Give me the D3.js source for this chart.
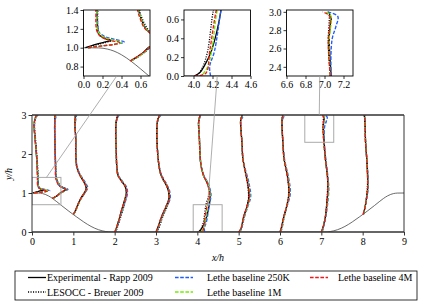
<!DOCTYPE html>
<html>
<head>
<meta charset="utf-8">
<script src="https://cdn.jsdelivr.net/npm/d3@7"></script>
<style>
body{margin:0;background:#fff;}
text{font-family:"Liberation Serif","DejaVu Serif",serif;fill:#000;}
</style>
</head>
<body>
<script>
// stations (x/h) where the profiles are taken
var stations=[0.05,0.5,1,2,3,4,5,6,7,8];

// hill contour
var hillX=[0,0.161,0.25,0.321,0.4,0.5,0.6,0.714,0.893,1.071,1.25,1.429,1.607,1.786,1.929,
           7.071,7.214,7.393,7.571,7.75,7.929,8.107,8.286,8.4,8.5,8.6,8.679,8.75,8.839,9];
var hillY=[1,0.998,0.986,0.964,0.925,0.857,0.776,0.679,0.532,0.393,0.259,0.143,0.059,0.012,0,
           0,0.012,0.059,0.143,0.259,0.393,0.532,0.679,0.776,0.857,0.925,0.964,0.986,0.998,1];

// profiles: [offset from station, y/h]
var expRapp=[
 [[-0.03,1.0],[0.06,1.03],[0.17,1.06],[0.24,1.08],[0.17,1.1],[0.11,1.14],[0.1,1.2],[0.09,1.4],[0.07,1.8],[0.04,2.2],[0.02,2.45],[0.0,2.75],[0.03,2.92],[0.07,3.0]],
 [[0.0,0.86],[0.06,0.9],[0.13,0.95],[0.18,1.0],[0.26,1.05],[0.31,1.09],[0.28,1.12],[0.21,1.15],[0.15,1.21],[0.11,1.3],[0.08,1.4],[0.07,1.7],[0.06,2.1],[0.05,2.5],[0.05,2.8],[0.06,3.0]],
 [[0.0,0.45],[0.05,0.55],[0.1,0.68],[0.16,0.82],[0.23,0.95],[0.29,1.05],[0.31,1.13],[0.27,1.25],[0.2,1.38],[0.13,1.52],[0.08,1.68],[0.06,2.0],[0.06,2.4],[0.04,2.7],[0.05,3.0]],
 [[0.01,0.0],[0.04,0.1],[0.1,0.3],[0.17,0.57],[0.24,0.82],[0.28,1.0],[0.26,1.15],[0.17,1.3],[0.08,1.45],[0.05,1.7],[0.04,2.0],[0.03,2.4],[0.03,2.75],[0.05,2.9],[0.08,3.0]],
 [[0.0,0.0],[0.04,0.1],[0.13,0.38],[0.24,0.65],[0.31,0.85],[0.3,1.05],[0.25,1.2],[0.17,1.35],[0.11,1.5],[0.06,1.8],[0.03,2.2],[0.02,2.5],[0.03,2.8],[0.06,2.93],[0.1,3.0]],
 [[0.01,0.0],[0.07,0.04],[0.11,0.1],[0.19,0.27],[0.29,0.7],[0.31,0.9],[0.3,1.05],[0.24,1.25],[0.15,1.45],[0.09,1.7],[0.06,2.1],[0.05,2.4],[0.03,2.8],[0.05,2.93],[0.07,3.0]],
 [[0.01,0.0],[0.06,0.1],[0.12,0.39],[0.2,0.65],[0.25,0.9],[0.22,1.25],[0.14,1.65],[0.1,1.9],[0.08,2.3],[0.05,2.7],[0.05,2.88],[0.09,3.0]],
 [[0.0,0.0],[0.03,0.1],[0.09,0.39],[0.16,0.65],[0.22,1.0],[0.18,1.43],[0.1,1.86],[0.07,2.3],[0.05,2.7],[0.05,2.88],[0.07,3.0]],
 [[0.0,0.0],[0.05,0.15],[0.1,0.4],[0.13,0.7],[0.16,1.1],[0.15,1.4],[0.1,1.86],[0.07,2.3],[0.05,2.7],[0.06,2.85],[0.07,2.93],[0.04,3.0]],
 [[0.02,0.46],[0.06,0.65],[0.09,0.85],[0.12,1.1],[0.12,1.4],[0.1,1.86],[0.07,2.3],[0.06,2.7],[0.05,2.9],[0.04,3.0]]
];
var lesoccBreuer=[
 [[0.0,1.0],[0.1,1.035],[0.2,1.06],[0.24,1.075],[0.18,1.1],[0.12,1.14],[0.1,1.2],[0.1,1.4],[0.08,1.8],[0.05,2.2],[0.03,2.45],[0.01,2.75],[0.03,2.92],[0.06,3.0]],
 [[0.0,0.86],[0.07,0.9],[0.14,0.95],[0.2,1.0],[0.28,1.05],[0.32,1.09],[0.3,1.12],[0.24,1.15],[0.19,1.18],[0.13,1.28],[0.09,1.4],[0.07,1.7],[0.06,2.1],[0.05,2.5],[0.05,2.8],[0.06,3.0]],
 [[0.0,0.45],[0.06,0.55],[0.11,0.68],[0.17,0.82],[0.24,0.95],[0.3,1.05],[0.32,1.13],[0.28,1.25],[0.21,1.38],[0.14,1.52],[0.09,1.68],[0.06,2.0],[0.06,2.4],[0.04,2.7],[0.05,3.0]],
 [[0.02,0.0],[0.06,0.1],[0.12,0.3],[0.2,0.57],[0.26,0.82],[0.29,1.0],[0.26,1.15],[0.17,1.3],[0.09,1.45],[0.05,1.7],[0.04,2.0],[0.03,2.4],[0.03,2.75],[0.05,2.9],[0.07,3.0]],
 [[0.02,0.0],[0.07,0.1],[0.16,0.38],[0.27,0.65],[0.33,0.85],[0.31,1.05],[0.25,1.2],[0.17,1.35],[0.11,1.5],[0.06,1.8],[0.03,2.2],[0.02,2.5],[0.03,2.8],[0.05,2.93],[0.08,3.0]],
 [[0.06,0.03],[0.1,0.1],[0.15,0.27],[0.21,0.7],[0.28,0.95],[0.29,1.05],[0.24,1.25],[0.15,1.45],[0.09,1.7],[0.06,2.1],[0.05,2.4],[0.03,2.8],[0.05,2.93],[0.06,3.0]],
 [[0.02,0.0],[0.07,0.1],[0.13,0.39],[0.2,0.65],[0.24,0.9],[0.21,1.25],[0.14,1.65],[0.1,1.9],[0.08,2.3],[0.05,2.7],[0.05,2.88],[0.08,3.0]],
 [[0.01,0.0],[0.04,0.1],[0.1,0.39],[0.16,0.65],[0.21,1.0],[0.18,1.43],[0.1,1.86],[0.07,2.3],[0.05,2.7],[0.05,2.88],[0.06,3.0]],
 [[0.01,0.0],[0.05,0.15],[0.1,0.4],[0.13,0.7],[0.15,1.1],[0.15,1.4],[0.1,1.86],[0.06,2.3],[0.04,2.7],[0.05,2.9],[0.05,3.0]],
 [[0.02,0.46],[0.06,0.65],[0.09,0.85],[0.11,1.1],[0.12,1.4],[0.1,1.86],[0.07,2.3],[0.06,2.7],[0.05,2.9],[0.04,3.0]]
];
var lethe250K=[
 [[0.0,1.0],[0.15,1.02],[0.3,1.04],[0.38,1.06],[0.27,1.09],[0.17,1.12],[0.11,1.17],[0.1,1.25],[0.09,1.4],[0.07,1.8],[0.04,2.2],[0.02,2.45],[0.01,2.75],[0.04,2.92],[0.1,3.0]],
 [[0.0,0.86],[0.07,0.9],[0.14,0.95],[0.2,1.0],[0.29,1.05],[0.37,1.09],[0.32,1.12],[0.23,1.15],[0.15,1.21],[0.11,1.3],[0.08,1.4],[0.07,1.7],[0.06,2.1],[0.05,2.5],[0.05,2.8],[0.09,3.0]],
 [[0.0,0.45],[0.06,0.55],[0.11,0.68],[0.17,0.82],[0.25,0.95],[0.31,1.05],[0.35,1.13],[0.3,1.25],[0.22,1.38],[0.14,1.52],[0.09,1.68],[0.06,2.0],[0.06,2.4],[0.04,2.7],[0.07,2.95],[0.08,3.0]],
 [[0.02,0.0],[0.05,0.1],[0.11,0.3],[0.19,0.57],[0.27,0.82],[0.31,1.0],[0.29,1.15],[0.19,1.3],[0.09,1.45],[0.05,1.7],[0.04,2.0],[0.03,2.4],[0.03,2.75],[0.06,2.9],[0.11,3.0]],
 [[0.02,0.0],[0.06,0.1],[0.15,0.38],[0.26,0.65],[0.34,0.85],[0.33,1.05],[0.27,1.2],[0.19,1.35],[0.12,1.5],[0.06,1.8],[0.03,2.2],[0.02,2.5],[0.03,2.8],[0.07,2.93],[0.12,3.0]],
 [[0.18,0.0],[0.17,0.1],[0.22,0.26],[0.29,0.7],[0.33,0.92],[0.32,1.05],[0.26,1.25],[0.16,1.45],[0.09,1.7],[0.06,2.1],[0.05,2.4],[0.03,2.8],[0.06,2.93],[0.09,3.0]],
 [[0.03,0.0],[0.07,0.1],[0.14,0.39],[0.22,0.65],[0.29,0.9],[0.25,1.25],[0.15,1.65],[0.1,1.9],[0.08,2.3],[0.05,2.7],[0.06,2.88],[0.12,2.97]],
 [[0.02,0.0],[0.05,0.1],[0.1,0.39],[0.17,0.65],[0.25,1.0],[0.2,1.43],[0.11,1.86],[0.07,2.3],[0.05,2.7],[0.06,2.88],[0.1,2.97]],
 [[0.02,0.0],[0.06,0.15],[0.11,0.4],[0.15,0.7],[0.18,1.1],[0.16,1.4],[0.11,1.86],[0.07,2.3],[0.08,2.7],[0.12,2.84],[0.14,2.95],[0.03,3.0]],
 [[0.02,0.46],[0.06,0.65],[0.1,0.85],[0.13,1.1],[0.13,1.4],[0.1,1.86],[0.07,2.3],[0.06,2.7],[0.06,2.9],[0.07,3.0]]
];
var lethe1M=[
 [[0.0,1.0],[0.15,1.02],[0.3,1.04],[0.35,1.058],[0.24,1.085],[0.15,1.12],[0.1,1.18],[0.09,1.4],[0.07,1.8],[0.04,2.2],[0.02,2.45],[0.0,2.75],[0.03,2.92],[0.08,3.0]],
 [[0.0,0.86],[0.07,0.9],[0.14,0.95],[0.19,1.0],[0.28,1.05],[0.34,1.09],[0.3,1.12],[0.22,1.15],[0.15,1.21],[0.11,1.3],[0.08,1.4],[0.07,1.7],[0.06,2.1],[0.05,2.5],[0.05,2.8],[0.07,3.0]],
 [[0.0,0.45],[0.06,0.55],[0.11,0.68],[0.17,0.82],[0.24,0.95],[0.3,1.05],[0.33,1.13],[0.28,1.25],[0.21,1.38],[0.13,1.52],[0.08,1.68],[0.06,2.0],[0.06,2.4],[0.04,2.7],[0.06,3.0]],
 [[0.01,0.0],[0.04,0.1],[0.1,0.3],[0.18,0.57],[0.25,0.82],[0.29,1.0],[0.27,1.15],[0.18,1.3],[0.08,1.45],[0.05,1.7],[0.04,2.0],[0.03,2.4],[0.03,2.75],[0.05,2.9],[0.09,3.0]],
 [[0.01,0.0],[0.05,0.1],[0.14,0.38],[0.25,0.65],[0.32,0.85],[0.31,1.05],[0.26,1.2],[0.18,1.35],[0.11,1.5],[0.06,1.8],[0.03,2.2],[0.02,2.5],[0.03,2.8],[0.06,2.93],[0.1,3.0]],
 [[0.1,0.02],[0.15,0.1],[0.19,0.26],[0.25,0.7],[0.31,0.92],[0.3,1.05],[0.25,1.25],[0.15,1.45],[0.09,1.7],[0.06,2.1],[0.05,2.4],[0.03,2.8],[0.05,2.93],[0.07,3.0]],
 [[0.02,0.0],[0.06,0.1],[0.13,0.39],[0.21,0.65],[0.27,0.9],[0.23,1.25],[0.14,1.65],[0.1,1.9],[0.08,2.3],[0.05,2.7],[0.05,2.88],[0.1,3.0]],
 [[0.01,0.0],[0.04,0.1],[0.1,0.39],[0.16,0.65],[0.23,1.0],[0.19,1.43],[0.1,1.86],[0.07,2.3],[0.05,2.7],[0.05,2.88],[0.08,3.0]],
 [[0.01,0.0],[0.05,0.15],[0.1,0.4],[0.14,0.7],[0.17,1.1],[0.15,1.4],[0.1,1.86],[0.06,2.3],[0.05,2.7],[0.07,2.9],[0.06,2.97],[0.0,3.0]],
 [[0.02,0.46],[0.06,0.65],[0.09,0.85],[0.12,1.1],[0.12,1.4],[0.1,1.86],[0.07,2.3],[0.06,2.7],[0.05,2.9],[0.05,3.0]]
];
var lethe4M=[
 [[0.0,1.0],[0.15,1.02],[0.3,1.04],[0.33,1.055],[0.22,1.08],[0.13,1.12],[0.09,1.18],[0.08,1.4],[0.07,1.8],[0.04,2.2],[0.02,2.45],[0.0,2.75],[0.03,2.92],[0.07,3.0]],
 [[-0.01,0.86],[0.06,0.9],[0.13,0.95],[0.19,1.0],[0.27,1.05],[0.33,1.09],[0.29,1.12],[0.21,1.15],[0.14,1.21],[0.1,1.3],[0.07,1.4],[0.07,1.7],[0.06,2.1],[0.05,2.5],[0.05,2.8],[0.06,3.0]],
 [[0.0,0.45],[0.05,0.55],[0.1,0.68],[0.16,0.82],[0.24,0.95],[0.3,1.05],[0.32,1.13],[0.28,1.25],[0.2,1.38],[0.13,1.52],[0.08,1.68],[0.06,2.0],[0.06,2.4],[0.04,2.7],[0.05,3.0]],
 [[0.0,0.0],[0.04,0.1],[0.1,0.3],[0.17,0.57],[0.25,0.82],[0.29,1.0],[0.27,1.15],[0.17,1.3],[0.08,1.45],[0.05,1.7],[0.04,2.0],[0.03,2.4],[0.03,2.75],[0.05,2.9],[0.08,3.0]],
 [[0.0,0.0],[0.04,0.1],[0.13,0.38],[0.24,0.65],[0.32,0.85],[0.31,1.05],[0.26,1.2],[0.18,1.35],[0.11,1.5],[0.06,1.8],[0.03,2.2],[0.02,2.5],[0.03,2.8],[0.06,2.93],[0.09,3.0]],
 [[0.01,0.0],[0.13,0.03],[0.17,0.26],[0.24,0.7],[0.3,0.92],[0.29,1.05],[0.24,1.25],[0.15,1.45],[0.09,1.7],[0.06,2.1],[0.05,2.4],[0.03,2.8],[0.05,2.93],[0.07,3.0]],
 [[0.0,0.0],[0.06,0.1],[0.12,0.39],[0.2,0.65],[0.26,0.9],[0.22,1.25],[0.14,1.65],[0.1,1.9],[0.08,2.3],[0.05,2.7],[0.05,2.88],[0.09,3.0]],
 [[0.0,0.0],[0.03,0.1],[0.09,0.39],[0.16,0.65],[0.22,1.0],[0.18,1.43],[0.1,1.86],[0.07,2.3],[0.05,2.7],[0.05,2.88],[0.07,3.0]],
 [[0.0,0.0],[0.05,0.15],[0.1,0.4],[0.13,0.7],[0.16,1.1],[0.15,1.4],[0.1,1.86],[0.06,2.3],[0.04,2.7],[0.06,2.9],[0.05,2.96],[-0.02,3.0]],
 [[0.01,0.45],[0.06,0.65],[0.09,0.85],[0.12,1.1],[0.12,1.4],[0.1,1.86],[0.07,2.3],[0.06,2.7],[0.05,2.9],[0.04,3.0]]
];

var seriesNames=["Experimental - Rapp 2009","LESOCC - Breuer 2009","Lethe baseline 250K","Lethe baseline 1M","Lethe baseline 4M"];

// main axes ticks
var xTicks=[0,1,2,3,4,5,6,7,8,9];
var yTicks=[0,1,2,3];

// zoom windows
var zoomX=[[0,0.7],[3.9,4.6],[6.6,7.3]];
var zoomY=[[0.7,1.4],[0,0.7],[2.3,3.02]];
var zoomTicksX=[[0,0.2,0.4,0.6],[4.0,4.2,4.4,4.6],[6.6,6.8,7.0,7.2]];
var zoomTicksY=[[0.8,1.0,1.2,1.4],[0,0.2,0.4,0.6],[2.4,2.6,2.8,3.0]];

var styles=[
  {data:expRapp,color:"#000",dash:null,w:1.3},
  {data:lesoccBreuer,color:"#000",dash:"1.1,1.4",w:1.3},
  {data:lethe250K,color:"#1f5bff",dash:"3.6,1.6",w:1.35},
  {data:lethe1M,color:"#72f000",dash:"3.6,1.6",w:1.35},
  {data:lethe4M,color:"#f01818",dash:"3.6,1.6",w:1.35}
];

var svg=d3.select("body").append("svg")
          .attr("width",427)
          .attr("height",307);
var defs=svg.append("defs");

var x=d3.scaleLinear().domain([0,9]).range([32,404]);
var y=d3.scaleLinear().domain([0,3]).range([232,115]);

// draw one panel (main or inset)
function drawPanel(g,sx,sy,id){
    var r0=sx.range(),r1=sy.range();
    defs.append("clipPath").attr("id",id)
        .append("rect")
        .attr("x",r0[0]).attr("y",r1[1])
        .attr("width",r0[1]-r0[0]).attr("height",r1[0]-r1[1]);
    var c=g.append("g").attr("clip-path","url(#"+id+")");

    var hill=d3.line().x(function(d,i){return sx(d);}).y(function(d,i){return sy(hillY[i]);})
               .curve(d3.curveMonotoneX);
    c.append("path").attr("d",hill(hillX))
        .attr("fill","none").attr("stroke","#444").attr("stroke-width",0.8);

    styles.forEach(function(s){
        s.data.forEach(function(prof,k){
            var ln=d3.line()
                .x(function(d){return sx(stations[k]+d[0]);})
                .y(function(d){return sy(d[1]);})
                .curve(d3.curveCatmullRom.alpha(0.5));
            c.append("path").attr("d",ln(prof))
                .attr("fill","none")
                .attr("stroke",s.color)
                .attr("stroke-width",s.w)
                .attr("stroke-dasharray",s.dash);
        });
    });
    return c;
}

var main=svg.append("g");
var mc=drawPanel(main,x,y,"clipMain");

// zoom rectangles in main plot
zoomX.forEach(function(zx,i){
    mc.append("rect")
      .attr("x",x(zx[0])).attr("y",y(zoomY[i][1]))
      .attr("width",x(zx[1])-x(zx[0]))
      .attr("height",y(zoomY[i][0])-y(zoomY[i][1]))
      .attr("fill","none").attr("stroke","#aaa").attr("stroke-width",1);
});

// axes main
var xa=main.append("g").attr("transform","translate(0,232)")
    .call(d3.axisBottom(x).tickValues(xTicks).tickSize(3.5).tickPadding(2).tickFormat(d3.format("d")));
var ya=main.append("g").attr("transform","translate(32,0)")
    .call(d3.axisLeft(y).tickValues(yTicks).tickSize(3.5).tickPadding(2).tickFormat(d3.format("d")));
[xa,ya].forEach(function(a){
    a.select(".domain").remove();
    a.selectAll("line").attr("stroke","#000").attr("stroke-width",0.8);
    a.selectAll("text").style("font-family","Liberation Serif").style("font-size","10px");
});
main.append("line").attr("x1",32).attr("x2",32).attr("y1",115).attr("y2",232).attr("stroke","#000").attr("stroke-width",0.8);
main.append("line").attr("x1",404).attr("x2",404).attr("y1",115).attr("y2",232).attr("stroke","#000").attr("stroke-width",0.8);
main.append("line").attr("x1",32).attr("x2",404).attr("y1",115).attr("y2",115).attr("stroke","#333").attr("stroke-width",1.6);
main.append("line").attr("x1",32).attr("x2",404).attr("y1",232).attr("y2",232).attr("stroke","#333").attr("stroke-width",1.6);

main.append("text").attr("x",218).attr("y",261).attr("text-anchor","middle")
    .style("font-size","10px").style("font-style","italic").text("x/h");
main.append("text").attr("transform","translate(12,174) rotate(-90)").attr("text-anchor","middle")
    .style("font-size","10px").style("font-style","italic").text("y/h");

// insets
var insetLeft=[83.5,184,286.5];
var insetTop=10,insetW=66.5,insetH=66;
zoomX.forEach(function(zx,i){
    var sx=d3.scaleLinear().domain(zx).range([insetLeft[i],insetLeft[i]+insetW]);
    var sy=d3.scaleLinear().domain(zoomY[i]).range([insetTop+insetH,insetTop]);
    var g=svg.append("g");
    drawPanel(g,sx,sy,"clipIn"+i);
    g.append("rect").attr("x",insetLeft[i]).attr("y",insetTop)
        .attr("width",insetW).attr("height",insetH)
        .attr("fill","none").attr("stroke","#000").attr("stroke-width",0.9);
    var ax=g.append("g").attr("transform","translate(0,"+(insetTop+insetH)+")")
        .call(d3.axisBottom(sx).tickValues(zoomTicksX[i]).tickSize(3).tickPadding(2).tickFormat(d3.format(".1f")));
    var ay=g.append("g").attr("transform","translate("+insetLeft[i]+",0)")
        .call(d3.axisLeft(sy).tickValues(zoomTicksY[i]).tickSize(3).tickPadding(2).tickFormat(d3.format(".1f")));
    [ax,ay].forEach(function(a){
        a.select(".domain").remove();
        a.selectAll("line").attr("stroke","#000").attr("stroke-width",0.8);
        a.selectAll("text").style("font-family","Liberation Serif").style("font-size","10px");
    });
    // connector from zoom box to inset
    svg.append("line")
        .attr("x1",x((zx[0]+zx[1])/2)).attr("y1",y(Math.min(zoomY[i][1],3)))
        .attr("x2",insetLeft[i]+insetW/2).attr("y2",insetTop+insetH)
        .attr("stroke","#999").attr("stroke-width",0.8);
});

// legend
var leg=svg.append("g");
leg.append("rect").attr("x",15).attr("y",271).attr("width",402).attr("height",29)
   .attr("fill","#fff").attr("stroke","#000").attr("stroke-width",0.8);
var legPos=[[28,47,277.5],[28,47,292],[175,207,277.5],[175,207,292],[310,338,277.5]];
styles.forEach(function(s,i){
    var p=legPos[i];
    leg.append("line").attr("x1",p[0]).attr("x2",p[0]+18).attr("y1",p[2]).attr("y2",p[2])
       .attr("stroke",s.color).attr("stroke-width",s.w).attr("stroke-dasharray",s.dash);
    leg.append("text").attr("x",p[1]).attr("y",p[2]).attr("dy","0.35em")
       .style("font-size","10px").text(seriesNames[i]);
});
</script>
</body>
</html>
